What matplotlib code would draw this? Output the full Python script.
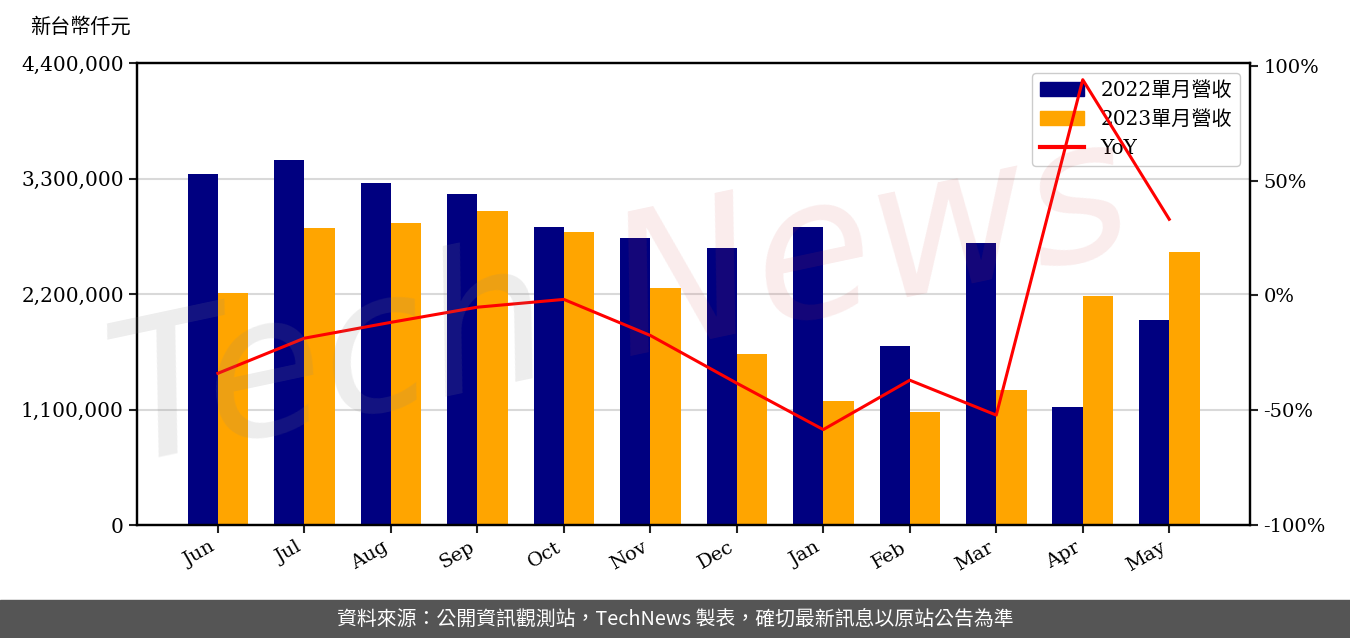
import matplotlib
matplotlib.use('Agg')
import matplotlib.pyplot as plt
import numpy as np
from matplotlib.lines import Line2D
from matplotlib.patches import Patch, Rectangle

plt.rcParams['font.family'] = ['DejaVu Serif', 'Noto Sans CJK TC']

months = ['Jun', 'Jul', 'Aug', 'Sep', 'Oct', 'Nov', 'Dec', 'Jan', 'Feb', 'Mar', 'Apr', 'May']
rev_2022 = [3343000, 3476000, 3257000, 3152000, 2838000, 2733000,
            2638000, 2838000, 1705000, 2686000, 1124000, 1952000]
rev_2023 = [2210000, 2829000, 2876000, 2990000, 2790000, 2257000,
            1629000, 1181000, 1076000, 1286000, 2181000, 2600000]
yoy = [-33.9, -18.6, -11.7, -5.1, -1.7, -17.4, -38.2, -58.4, -36.9, -52.1, 94.0, 33.2]

yticks_left = [0, 1100000, 2200000, 3300000, 4400000]
yticks_right = [-100, -50, 0, 50, 100]

fig = plt.figure(figsize=(13.5, 6.38), dpi=100)
ax = fig.add_axes([0.1015, 0.177, 0.8245, 0.724])

x = np.arange(len(months))
w = 0.35
ax.bar(x - w / 2, rev_2022, w, color='#000080', zorder=2)
ax.bar(x + w / 2, rev_2023, w, color='#FFA500', zorder=2)

ax.set_ylim(0, 4400000)
ax.set_yticks(yticks_left)
ax.set_yticklabels([f'{v:,}' for v in yticks_left], fontsize=14.5)
ax.set_xticks(x)
ax.set_xticklabels(months, rotation=30, ha='right', fontsize=14)
ax.grid(axis='y', color='#d9d9d9', lw=1.5, zorder=0)
ax.set_axisbelow(True)

ax2 = ax.twinx()
ax2.plot(x, yoy, color='red', lw=2.2, zorder=5)
ax2.set_ylim(-100, 101.2)
ax2.set_yticks(yticks_right)
ax2.set_yticklabels([f'{v}%' for v in yticks_right], fontsize=14)

for a in (ax, ax2):
    for s in a.spines.values():
        s.set_linewidth(1.6)
    a.tick_params(width=1.5, length=6, colors='#222222', labelcolor='black')

handles = [Patch(color='#000080'), Patch(color='#FFA500'), Line2D([], [], color='red', lw=3)]
ax.legend(handles, ['2022單月營收', '2023單月營收', 'YoY'], loc='upper right',
          fontsize=14.5, framealpha=1, borderpad=0.4, handlelength=2.2)

# watermark
fig.text(0.245, 0.43, 'Tech', fontsize=140, color='#888888', alpha=0.15,
         rotation=12, ha='center', va='center', style='italic',
         family='DejaVu Sans')
fig.text(0.645, 0.61, 'News', fontsize=140, color='#d04040', alpha=0.1,
         rotation=12, ha='center', va='center', style='italic',
         family='DejaVu Sans')

fig.text(0.022, 0.957, '新台幣仟元', fontsize=14.5, family=['Noto Sans CJK TC'], va='center')

fig.patches.append(Rectangle((0, 0), 1, 38 / 638, transform=fig.transFigure,
                             color='#555555', zorder=0))
fig.text(0.5, 19 / 638, '資料來源：公開資訊觀測站，TechNews 製表，確切最新訊息以原站公告為準',
         color='white', fontsize=14.3, ha='center', va='center',
         family=['Noto Sans CJK TC', 'DejaVu Sans'])

fig.savefig('out.png', dpi=100)
